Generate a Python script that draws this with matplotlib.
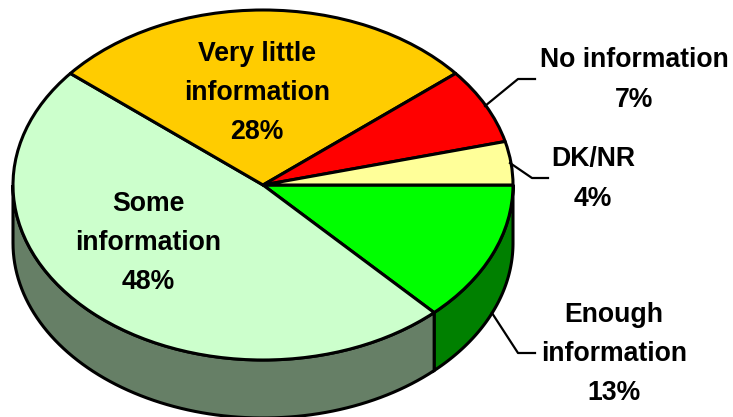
import numpy as np
import matplotlib
matplotlib.use("Agg")
import matplotlib.pyplot as plt

labels = ["Enough\ninformation\n13%", "Some\ninformation\n48%", "Very little\ninformation\n28%",
          "No information\n7%", "DK/NR\n4%"]
values = [13, 48, 28, 7, 4]
colors = ["#00FF00", "#CCFFCC", "#FFCC00", "#FF0000", "#FFFF99"]
side_colors = ["#008000", "#667F66"]
label_xy = [(614, 354), (148, 243), (257, 93), (634, 80), (593, 179)]
leaders = [[(492, 313), (518, 353), (535, 353)],
           [(485, 106), (518, 79), (535, 79)],
           [(510, 163), (532, 178), (548, 178)]]

W, H = 733, 417
cx, cy, rx, ry, depth = 263, 185, 250, 175, 58

plt.rcParams['font.family'] = ['Liberation Sans', 'DejaVu Sans']
fig = plt.figure(figsize=(W/100, H/100), dpi=100)

# pie axes are scaled so that the unit circle lands as the squashed ellipse
ax = fig.add_axes([0, 0, 1, 1])
ax.pie(values, colors=colors, startangle=0, counterclock=False, radius=1,
       wedgeprops=dict(edgecolor='black', linewidth=2.2, joinstyle='round'))
ax.set_aspect('auto')
ax.set_xlim(-cx/rx, (W-cx)/rx)
ax.set_ylim((cy-H)/ry, cy/ry)

# side wall of the two slices facing the viewer
d = depth/ry
edges = -np.cumsum([0] + values)/sum(values)*360
for i in range(2):
    a = np.radians(np.linspace(edges[i], max(edges[i+1], -180), 80))
    x = np.cos(a)
    y = np.sin(a)
    px = np.concatenate([x, x[::-1]])
    py = np.concatenate([y, y[::-1]-d])
    ax.fill(px, py, facecolor=side_colors[i], edgecolor='black', linewidth=2.2, zorder=0.5)

# labels and leader lines are placed in pixels
ov = fig.add_axes([0, 0, 1, 1])
ov.set_xlim(0, W)
ov.set_ylim(H, 0)
ov.axis('off')
for lab, (x, y) in zip(labels, label_xy):
    ov.text(x, y, lab, ha='center', va='center', fontsize=19.2, fontweight='bold',
            color='black', linespacing=1.66)
for pts in leaders:
    ov.plot([p[0] for p in pts], [p[1] for p in pts], color='black', lw=1.6)

fig.savefig("out.png", dpi=100)
